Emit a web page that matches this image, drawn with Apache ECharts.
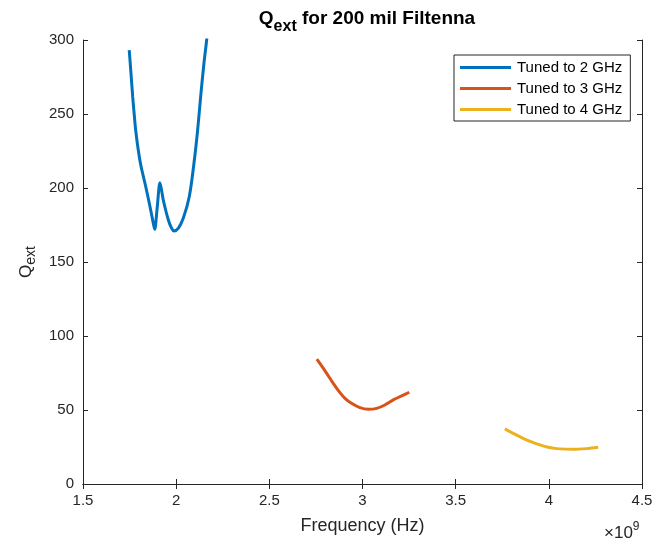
<!DOCTYPE html>
<html><head><meta charset="utf-8">
<script src="https://cdn.jsdelivr.net/npm/echarts@6/dist/echarts.min.js"></script>
<style>html,body{margin:0;padding:0;background:#fff}#c{width:657px;height:541px}</style>
</head><body><div id="c"></div>
<script>
// Frequency in units of 1e9 Hz, Q_ext values
const freq2 = [1.748,1.7575,1.7666,1.775,1.7827,1.795,1.810,1.8326,1.8559,1.8774,1.8847,1.8987,1.913,1.9308,1.958,1.976,1.988,2.011,2.038,2.0703,2.0955,2.1153,2.1314,2.1491,2.1636,2.172];
const q2    = [293.2,277.5,261.7,249.5,239.2,227,215.5,203.2,189.7,176.1,172.1,187.4,203.6,191.9,178.4,172.7,170.9,172.7,179.5,194.1,216.7,239.2,261.7,284.3,300,312];
const freq3 = [2.755,2.798,2.843,2.879,2.906,2.941,2.986,3.031,3.076,3.120,3.165,3.210,3.251];
const q3    = [84.3,76.6,68,61.7,57.9,54.5,51.6,50.5,51.1,53.4,56.8,59.5,62];
const freq4 = [3.764,3.809,3.862,3.907,3.952,3.996,4.041,4.131,4.202,4.265];
const q4    = [37.2,34.2,30.9,28.4,26.4,24.8,23.9,23.4,23.9,24.8];
const seriesNames = ['Tuned to 2 GHz','Tuned to 3 GHz','Tuned to 4 GHz'];
const xTicks = [1.5,2,2.5,3,3.5,4,4.5];
const yTicks = [0,50,100,150,200,250,300];

const zip = (a,b)=>a.map((v,i)=>[v,b[i]]);
const FONT = 'Liberation Sans, Arial, Helvetica, sans-serif';
const AX = '#262626';
const chart = echarts.init(document.getElementById('c'));
const baseX = {type:'value',min:xTicks[0],max:xTicks[xTicks.length-1],interval:0.5,
  axisLine:{show:true,lineStyle:{color:AX,width:1}},
  axisTick:{show:true,inside:true,length:5,lineStyle:{color:AX}},
  splitLine:{show:false}};
const baseY = {type:'value',min:yTicks[0],max:yTicks[yTicks.length-1],interval:50,
  axisLine:{show:true,lineStyle:{color:AX,width:1}},
  axisTick:{show:true,inside:true,length:5,lineStyle:{color:AX}},
  splitLine:{show:false}};
const mk = (name,data,color,sm)=>({name,type:'line',data,showSymbol:false,symbol:'none',smooth:sm,
  lineStyle:{color,width:3},itemStyle:{color},xAxisIndex:0,yAxisIndex:0,clip:true});
chart.setOption({
  animation:false,
  textStyle:{fontFamily:FONT},
  title:{text:'{q|Q}{s|ext}{t| for 200 mil Filtenna}',left:362,textAlign:'center',top:2,
    textStyle:{rich:{
      q:{fontFamily:FONT,fontWeight:'bold',fontSize:19,color:'#000',lineHeight:24},
      s:{fontFamily:FONT,fontWeight:'bold',fontSize:16,color:'#000',lineHeight:24,padding:[16,0,0,0]},
      t:{fontFamily:FONT,fontWeight:'bold',fontSize:19,color:'#000',lineHeight:24}}}},
  grid:{left:83,right:15,top:40,bottom:57,containLabel:false},
  legend:{orient:'vertical',left:454,top:55,data:seriesNames,
    backgroundColor:'#fff',borderColor:AX,borderWidth:1,borderRadius:0,
    padding:[5,8,4,6],itemGap:6,itemWidth:51,itemHeight:3,icon:'rect',
    textStyle:{fontFamily:FONT,fontSize:15,color:'#000',padding:[0,0,0,1]}},
  xAxis:[
    Object.assign({},baseX,{position:'bottom',name:'Frequency (Hz)',nameLocation:'middle',nameGap:33,
      nameTextStyle:{fontFamily:FONT,fontSize:18,color:AX},
      axisLabel:{show:true,color:AX,fontSize:15,fontFamily:FONT,margin:9}}),
    Object.assign({},baseX,{position:'top',axisLabel:{show:false}})
  ],
  yAxis:[
    Object.assign({},baseY,{position:'left',name:'{q|Q}{s|ext}',nameLocation:'middle',nameGap:46,nameRotate:90,
      nameTextStyle:{rich:{
        q:{fontFamily:FONT,fontSize:17,color:AX,lineHeight:22},
        s:{fontFamily:FONT,fontSize:14,color:AX,lineHeight:22,padding:[10,0,0,0]}}},
      axisLabel:{show:true,color:AX,fontSize:15,fontFamily:FONT,margin:9}}),
    Object.assign({},baseY,{position:'right',axisLabel:{show:false}})
  ],
  graphic:[{type:'text',left:604,top:517,style:{
    text:'{a|×10}{b|9}',rich:{
      a:{fontFamily:FONT,fontSize:17,fill:AX,lineHeight:24,padding:[8,0,0,0]},
      b:{fontFamily:FONT,fontSize:12,fill:AX,lineHeight:24,padding:[0,0,6,0]}}}}],
  series:[
    mk(seriesNames[0],zip(freq2,q2),'#0072BD',0.3),
    mk(seriesNames[1],zip(freq3,q3),'#D95319',0.3),
    mk(seriesNames[2],zip(freq4,q4),'#EDB120',0.3)
  ]
});
</script></body></html>
